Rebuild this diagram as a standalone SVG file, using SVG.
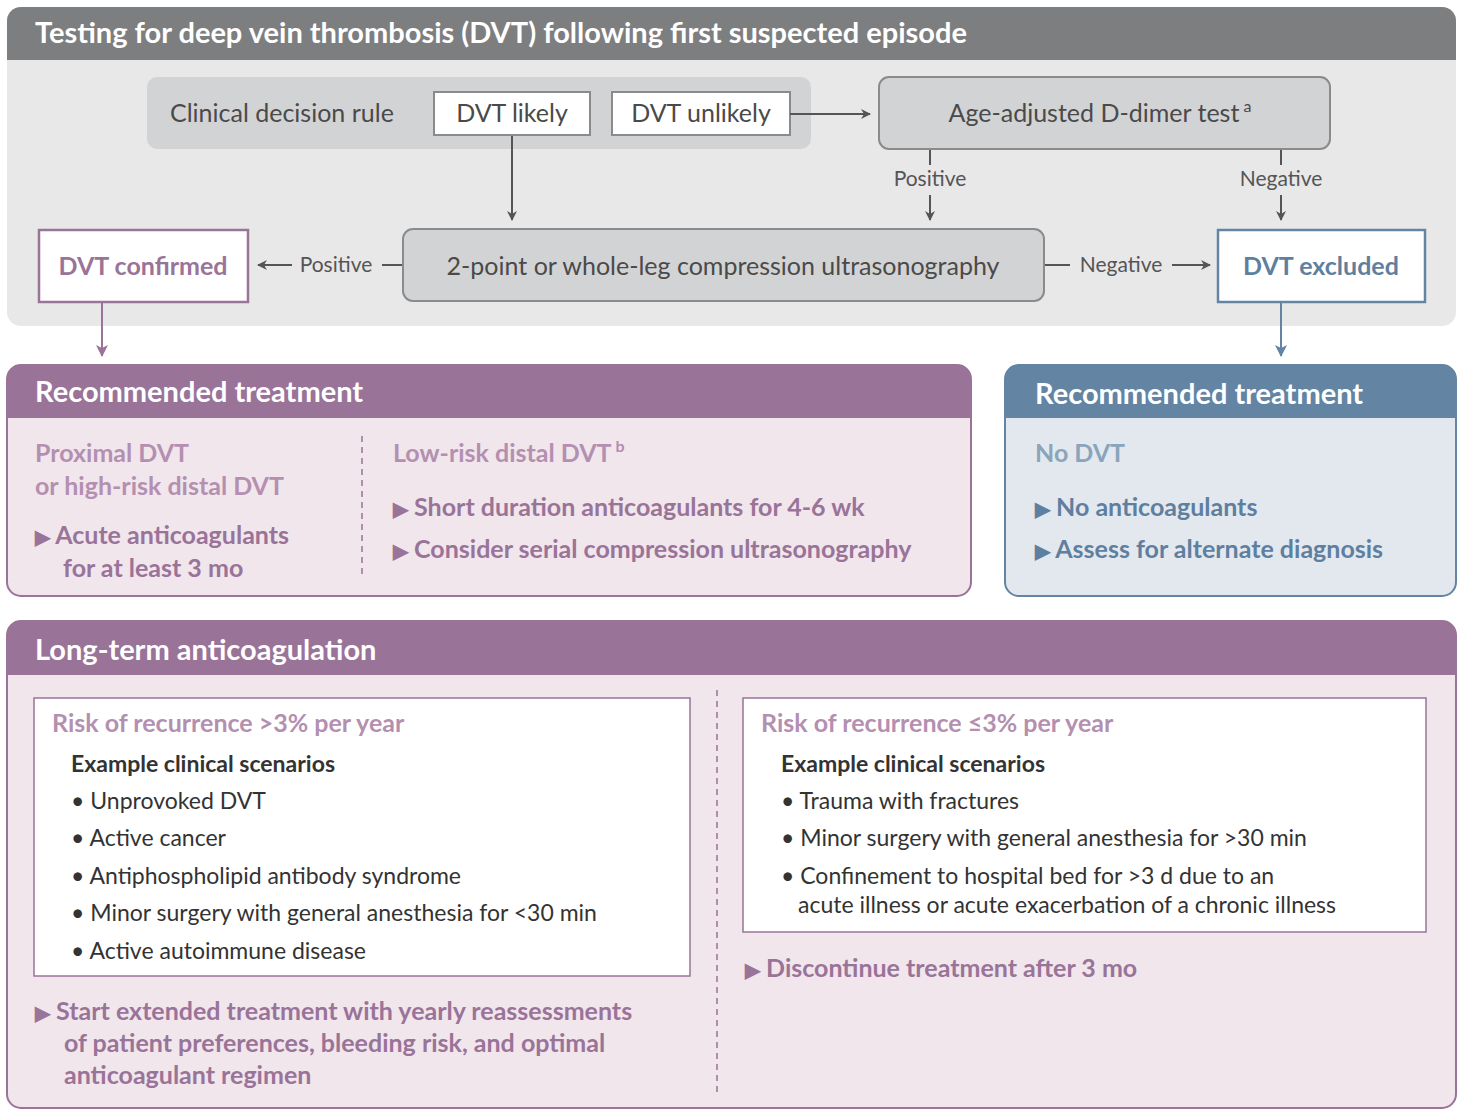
<svg xmlns="http://www.w3.org/2000/svg" width="1463" height="1115" viewBox="0 0 1463 1115">
<defs>
<marker id="ag" markerWidth="10" markerHeight="10" refX="9" refY="5" orient="auto" markerUnits="userSpaceOnUse"><path d="M0,0 L10,5 L0,10 L3,5 Z" fill="#555"/></marker>
<marker id="ap" markerWidth="12" markerHeight="12" refX="11" refY="6" orient="auto" markerUnits="userSpaceOnUse"><path d="M0,0 L12,6 L0,12 L3,6 Z" fill="#9a7399"/></marker>
<marker id="ab" markerWidth="12" markerHeight="12" refX="11" refY="6" orient="auto" markerUnits="userSpaceOnUse"><path d="M0,0 L12,6 L0,12 L3,6 Z" fill="#6384a3"/></marker>
</defs>
<style>
text{font-family:Lato,"Open Sans","Liberation Sans",sans-serif;}
.h{fill:#fff;font-size:29px;font-weight:bold}
.g{fill:#4a4a4a;font-size:25px}
.lbl{fill:#555;font-size:21px}
.pl{fill:#b48fb0;font-size:25px;font-weight:bold}
.pd{fill:#9a7399;font-size:25px;font-weight:bold}
.bl{fill:#8aa5bb;font-size:25px;font-weight:bold}
.bd{fill:#5f7fa0;font-size:25px;font-weight:bold}
.k{fill:#333;font-size:23px}
.kb{fill:#333;font-size:23px;font-weight:bold}
</style>
<rect width="1463" height="1115" fill="#fff"/>
<g id="testing">
<rect x="7" y="7" width="1449" height="319" rx="14" fill="#e8e8e9"/>
<path d="M7,60 V21 a14,14 0 0 1 14,-14 H1442 a14,14 0 0 1 14,14 V60 Z" fill="#7d7e80"/>
<text x="35" y="43" class="h" font-weight="normal">Testing for deep vein thrombosis (DVT) following first suspected episode</text>
</g>
<g id="rule">
<rect x="147" y="77" width="664" height="72" rx="10" fill="#d2d3d5"/>
<text x="170" y="122" class="g">Clinical decision rule</text>
</g>
<g id="likely"><rect x="434" y="92" width="156" height="43" fill="#fff" stroke="#8a8b8d" stroke-width="2"/><text x="512" y="122" class="g" text-anchor="middle">DVT likely</text></g>
<g id="unlikely"><rect x="612" y="92" width="178" height="43" fill="#fff" stroke="#8a8b8d" stroke-width="2"/><text x="701" y="122" class="g" text-anchor="middle">DVT unlikely</text></g>
<g id="ddimer"><rect x="879" y="77" width="451" height="72" rx="10" fill="#d2d3d5" stroke="#8a8b8d" stroke-width="2"/><text x="1100" y="122" class="g" text-anchor="middle">Age-adjusted D-dimer test<tspan dy="-10" font-size="16"> a</tspan></text></g>
<g id="us"><rect x="403" y="229" width="641" height="72" rx="10" fill="#d2d3d5" stroke="#8a8b8d" stroke-width="2"/><text x="723" y="275" class="g" text-anchor="middle">2-point or whole-leg compression ultrasonography</text></g>
<g id="confirmed"><rect x="39" y="230" width="209" height="72" fill="#fff" stroke="#9a7399" stroke-width="2.5"/><text x="143" y="275" class="pd" text-anchor="middle">DVT confirmed</text></g>
<g id="excluded"><rect x="1218" y="230" width="207" height="72" fill="#fff" stroke="#6384a3" stroke-width="2.5"/><text x="1321" y="275" class="bd" text-anchor="middle">DVT excluded</text></g>
<g id="connectors" fill="none" stroke-width="2">
<path d="M790,114 H870" stroke="#555" marker-end="url(#ag)"/>
<path d="M512,136 V220" stroke="#555" marker-end="url(#ag)"/>
<path d="M930,150 V165 M930,195 V220" stroke="#555"/>
<path d="M930,200 V220" stroke="#555" marker-end="url(#ag)"/>
<path d="M1281,150 V165 M1281,195 V220" stroke="#555"/>
<path d="M1281,200 V220" stroke="#555" marker-end="url(#ag)"/>
<path d="M402,265 H382 M292,265 H258" stroke="#555"/>
<path d="M290,265 H258" stroke="#555" marker-end="url(#ag)"/>
<path d="M1045,265 H1070 M1172,265 H1210" stroke="#555" marker-end="url(#ag)"/>
<path d="M102,303 V356" stroke="#9a7399" marker-end="url(#ap)"/>
<path d="M1281,303 V356" stroke="#6384a3" marker-end="url(#ab)"/>
<text x="930" y="186" class="lbl" text-anchor="middle" stroke="none">Positive</text>
<text x="1281" y="186" class="lbl" text-anchor="middle" stroke="none">Negative</text>
<text x="336" y="272" class="lbl" text-anchor="middle" stroke="none">Positive</text>
<text x="1121" y="272" class="lbl" text-anchor="middle" stroke="none">Negative</text>
</g>
<g id="treat-purple">
<rect x="7" y="365" width="964" height="231" rx="14" fill="#f0e6ec" stroke="#9a7399" stroke-width="2"/>
<path d="M7,418 V379 a14,14 0 0 1 14,-14 H957 a14,14 0 0 1 14,14 V418 Z" fill="#9a7399"/>
<text x="35" y="402" class="h">Recommended treatment</text>
<line x1="362" y1="436" x2="362" y2="578" stroke="#9a7399" stroke-width="1.5" stroke-dasharray="6,5"/>
<text x="35" y="462" class="pl">Proximal DVT</text>
<text x="35" y="495" class="pl">or high-risk distal DVT</text>
<text x="35" y="544" class="pd"><tspan font-size="20">▶</tspan> Acute anticoagulants</text>
<text x="63" y="577" class="pd">for at least 3 mo</text>
<text x="393" y="462" class="pl">Low-risk distal DVT<tspan dy="-10" font-size="16"> b</tspan></text>
<text x="393" y="516" class="pd"><tspan font-size="20">▶</tspan> Short duration anticoagulants for 4-6 wk</text>
<text x="393" y="558" class="pd"><tspan font-size="20">▶</tspan> Consider serial compression ultrasonography</text>
</g>
<g id="treat-blue">
<rect x="1005" y="365" width="451" height="231" rx="14" fill="#e3e8ee" stroke="#6384a3" stroke-width="2"/>
<path d="M1005,418 V379 a14,14 0 0 1 14,-14 H1442 a14,14 0 0 1 14,14 V418 Z" fill="#6384a3"/>
<text x="1035" y="404" class="h">Recommended treatment</text>
<text x="1035" y="462" class="bl">No DVT</text>
<text x="1035" y="516" class="bd"><tspan font-size="20">▶</tspan> No anticoagulants</text>
<text x="1035" y="558" class="bd"><tspan font-size="20">▶</tspan> Assess for alternate diagnosis</text>
</g>
<g id="longterm">
<rect x="7" y="621" width="1449" height="487" rx="14" fill="#f0e6ec" stroke="#9a7399" stroke-width="2"/>
<path d="M7,675 V635 a14,14 0 0 1 14,-14 H1442 a14,14 0 0 1 14,14 V675 Z" fill="#9a7399"/>
<text x="35" y="660" class="h">Long-term anticoagulation</text>
<line x1="717" y1="690" x2="717" y2="1095" stroke="#9a7399" stroke-width="1.5" stroke-dasharray="6,5"/>
</g>
<g id="high-risk">
<rect x="34" y="698" width="656" height="278" fill="#fff" stroke="#9a7399" stroke-width="1.5"/>
<text x="52" y="732" class="pl">Risk of recurrence &gt;3% per year</text>
<text x="71" y="772" class="kb">Example clinical scenarios</text>
<text x="71" y="809" class="k">• Unprovoked DVT</text>
<text x="71" y="846" class="k">• Active cancer</text>
<text x="71" y="884" class="k">• Antiphospholipid antibody syndrome</text>
<text x="71" y="921" class="k">• Minor surgery with general anesthesia for &lt;30 min</text>
<text x="71" y="959" class="k">• Active autoimmune disease</text>
<text x="35" y="1020" class="pd"><tspan font-size="20">▶</tspan> Start extended treatment with yearly reassessments</text>
<text x="64" y="1052" class="pd">of patient preferences, bleeding risk, and optimal</text>
<text x="64" y="1084" class="pd">anticoagulant regimen</text>
</g>
<g id="low-risk">
<rect x="743" y="698" width="683" height="234" fill="#fff" stroke="#9a7399" stroke-width="1.5"/>
<text x="761" y="732" class="pl">Risk of recurrence ≤3% per year</text>
<text x="781" y="772" class="kb">Example clinical scenarios</text>
<text x="781" y="809" class="k">• Trauma with fractures</text>
<text x="781" y="846" class="k">• Minor surgery with general anesthesia for &gt;30 min</text>
<text x="781" y="884" class="k">• Confinement to hospital bed for &gt;3 d due to an</text>
<text x="798" y="913" class="k">acute illness or acute exacerbation of a chronic illness</text>
<text x="745" y="977" class="pd"><tspan font-size="20">▶</tspan> Discontinue treatment after 3 mo</text>
</g>
</svg>
